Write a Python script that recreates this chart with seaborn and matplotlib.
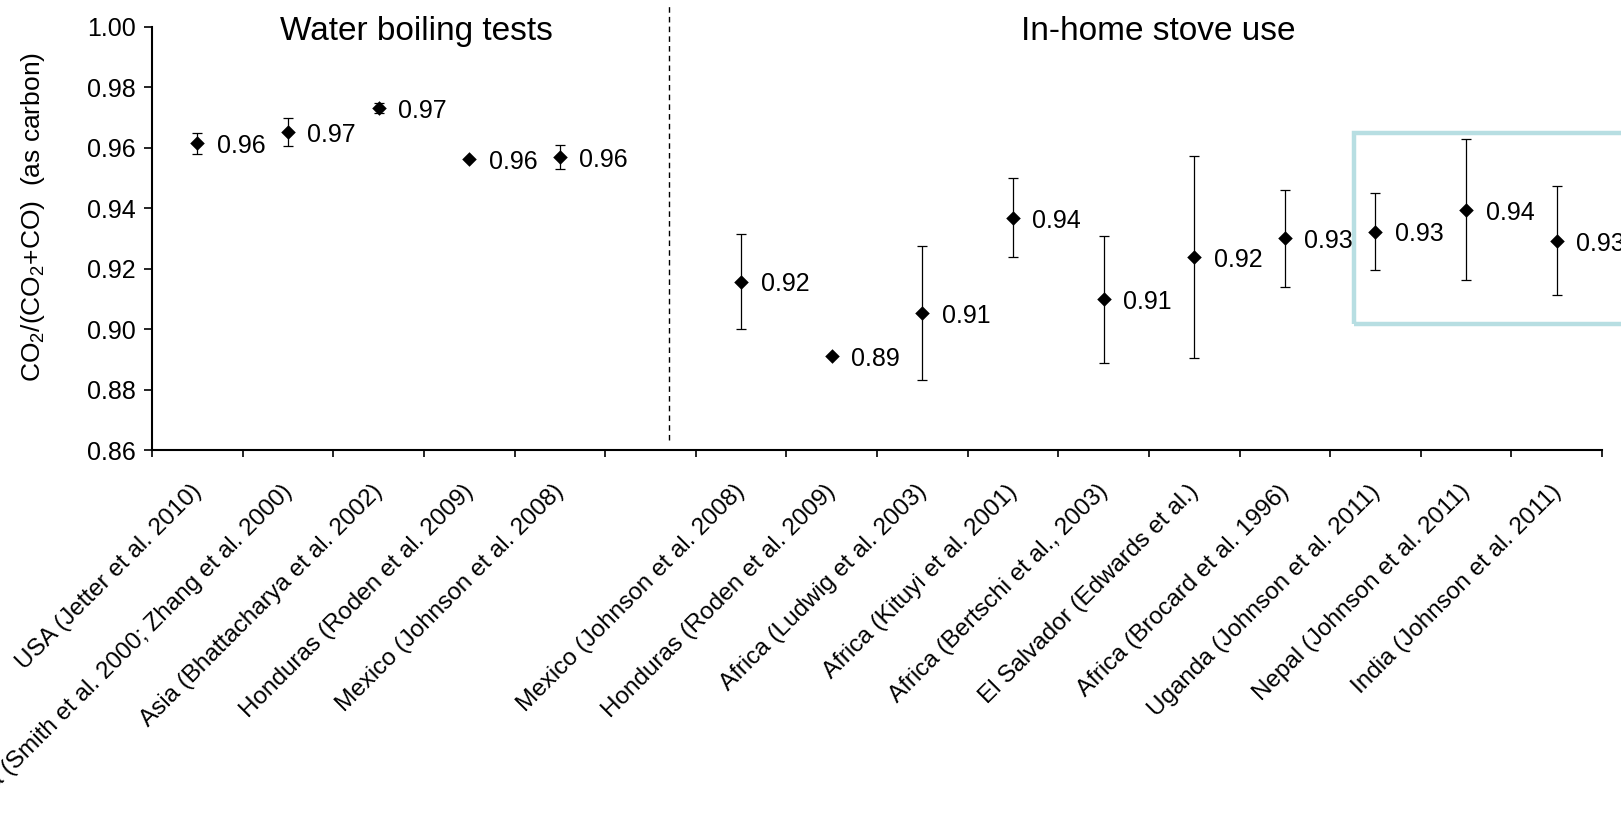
import numpy as np
import pandas as pd
import matplotlib
matplotlib.use("Agg")
import matplotlib.pyplot as plt
import matplotlib.transforms as mtransforms
from matplotlib.patches import Rectangle
import seaborn as sns

# ------------------------------
#  Data
# ------------------------------

site_labels = [
    "USA (Jetter et al. 2010)",
    "China (Smith et al. 2000; Zhang et al. 2000)",
    "Asia (Bhattacharya et al. 2002)",
    "Honduras (Roden et al. 2009)",
    "Mexico (Johnson et al. 2008)",
    "",
    "Mexico (Johnson et al. 2008)",
    "Honduras (Roden et al. 2009)",
    "Africa (Ludwig et al. 2003)",
    "Africa (Kituyi et al. 2001)",
    "Africa (Bertschi et al., 2003)",
    "El Salvador (Edwards et al.)",
    "Africa (Brocard et al. 1996)",
    "Uganda (Johnson et al. 2011)",
    "Nepal (Johnson et al. 2011)",
    "India (Johnson et al. 2011)",
]

mce = [0.9614, 0.9652, 0.9732, 0.9561, 0.9568, np.nan,
       0.9157, 0.8911, 0.9052, 0.9368, 0.9098, 0.9239, 0.9300, 0.9322, 0.9394, 0.9292]

mce_err = [0.0034, 0.0047, 0.0016, 0.0, 0.0040, np.nan,
           0.0157, 0.0, 0.0222, 0.0130, 0.0210, 0.0334, 0.0161, 0.0127, 0.0233, 0.0180]

section_titles = ["Water boiling tests", "In-home stove use"]

df = pd.DataFrame({"pos": np.arange(len(site_labels)), "mce": mce, "err": mce_err})
pts = df.dropna()

# ------------------------------
#  Style
# ------------------------------

sns.set_theme(style="white")
plt.rcParams["font.family"] = ["Liberation Sans", "DejaVu Sans"]
plt.rcParams["mathtext.fontset"] = "custom"
plt.rcParams["mathtext.rm"] = "Liberation Sans"
plt.rcParams["mathtext.it"] = "Liberation Sans:italic"
for key in ["text.color", "axes.labelcolor", "xtick.color", "ytick.color"]:
    plt.rcParams[key] = "black"

fig = plt.figure(figsize=(16.21, 8.17), dpi=100)
ax = fig.add_axes([0.0938, 0.4492, 0.8945, 0.5181])

# error bars + diamonds
ax.errorbar(pts["pos"], pts["mce"], yerr=pts["err"], fmt="none",
            ecolor="black", elinewidth=0.9, capsize=3.3, capthick=0.9, zorder=2)
sns.scatterplot(data=pts, x="pos", y="mce", marker="D", s=55, color="black",
                edgecolor="black", linewidth=0, ax=ax, zorder=3)

# value labels
for _, r in pts.iterrows():
    ax.annotate(f"{r['mce']:.2f}", (r["pos"], r["mce"]), xytext=(14, -2),
                textcoords="offset points", ha="left", va="center", fontsize=18)

# separator between the two groups
ax.plot([5.2, 5.2], [0.8633, 1.0072], color="black", ls=(0, (4, 3)), lw=1,
        clip_on=False)

# highlight box
ax.add_patch(Rectangle((12.76, 0.9017), 4.0, 0.0631, fill=False,
                       edgecolor="#B7DEE2", lw=3.2, clip_on=False, zorder=1))

ax.text(2.42, 0.9956, section_titles[0], ha="center", va="baseline", fontsize=24)
ax.text(10.6, 0.9956, section_titles[1], ha="center", va="baseline", fontsize=24)

# ------------------------------
#  Axes
# ------------------------------

ax.set_xlim(-0.5, len(site_labels) - 0.5)
ax.set_ylim(0.86, 1.00)
yt = np.arange(0.86, 1.0001, 0.02)
ax.set_yticks(yt)
ax.set_yticklabels([f"{t:.2f}" for t in yt], fontsize=18)

ax.set_xticks(df["pos"])
ax.set_xticklabels(site_labels, rotation=45, ha="right", rotation_mode="anchor",
                   fontsize=17.5)
ax.set_xticks(np.arange(-0.5, len(site_labels), 1), minor=True)
ax.tick_params(axis="x", which="major", length=0, pad=22)
ax.tick_params(axis="x", which="minor", length=5, width=1.2, direction="out",
               color="black", bottom=True)
ax.tick_params(axis="y", length=5.5, width=1.2, direction="out", color="black",
               left=True, pad=6)

# nudge the slanted labels a little to the left (after tick_params, which resets transforms)
shift = mtransforms.ScaledTranslation(-7 / 100, 0, fig.dpi_scale_trans)
for lab in ax.get_xticklabels():
    lab.set_transform(lab.get_transform() + shift)

ax.set_xlabel("")
ax.set_ylabel(r"CO$_2$/(CO$_2$+CO)  (as carbon)", fontsize=19)
ax.yaxis.set_label_coords(-0.0727, 0.55)

sns.despine(ax=ax)
for side in ["left", "bottom"]:
    ax.spines[side].set_color("black")
    ax.spines[side].set_linewidth(1.5)

fig.savefig("out.png", dpi=100)
